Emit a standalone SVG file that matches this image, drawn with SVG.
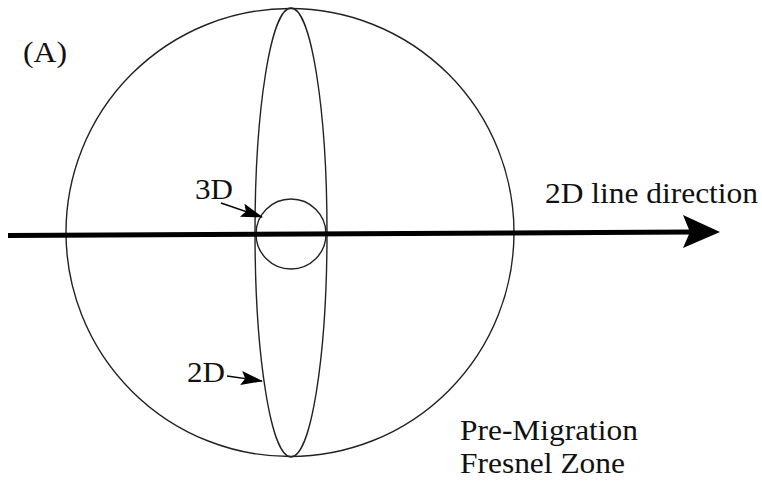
<svg xmlns="http://www.w3.org/2000/svg" width="762" height="481" viewBox="0 0 762 481">
<style>
.ln{fill:none;stroke:#222;stroke-width:1.4}
.t{font-family:"Liberation Serif","Times New Roman",serif;fill:#111}
</style>
<defs>
<marker id="ahs" viewBox="0 0 22 14" refX="21" refY="7" markerWidth="22" markerHeight="14" orient="auto" markerUnits="userSpaceOnUse">
<path d="M0,0 L22,7 L0,14 L4,7 Z" fill="#000"/>
</marker>
</defs>
<rect width="762" height="481" fill="#fff"/>
<g id="fresnel-zone"><circle class="ln" cx="290" cy="232.5" r="224"/></g>
<g id="zone-2d"><ellipse class="ln" cx="291" cy="232.5" rx="36" ry="224.5"/></g>
<g id="zone-3d"><circle class="ln" cx="291" cy="234" r="35"/></g>
<g id="connectors">
<line x1="8" y1="235.5" x2="692" y2="232" stroke="#000" stroke-width="5"/>
<path d="M720,232 L683,215 L690,232 L683,248 Z" fill="#000"/>
<line x1="221" y1="203" x2="262" y2="217" stroke="#000" stroke-width="1.4" marker-end="url(#ahs)"/>
<line x1="227" y1="376" x2="262" y2="381" stroke="#000" stroke-width="1.4" marker-end="url(#ahs)"/>
</g>
<g id="labels">
<text class="t" x="23" y="62" font-size="29" textLength="44" lengthAdjust="spacingAndGlyphs">(A)</text>
<text class="t" x="195" y="199" font-size="29" textLength="38" lengthAdjust="spacingAndGlyphs">3D</text>
<text class="t" x="187" y="382" font-size="30" textLength="38" lengthAdjust="spacingAndGlyphs">2D</text>
<text class="t" x="545" y="203" font-size="30" textLength="213" lengthAdjust="spacingAndGlyphs">2D line direction</text>
<text class="t" x="460" y="440" font-size="29" textLength="178" lengthAdjust="spacingAndGlyphs">Pre-Migration</text>
<text class="t" x="460" y="473" font-size="29" textLength="165" lengthAdjust="spacingAndGlyphs">Fresnel Zone</text>
</g>
</svg>
